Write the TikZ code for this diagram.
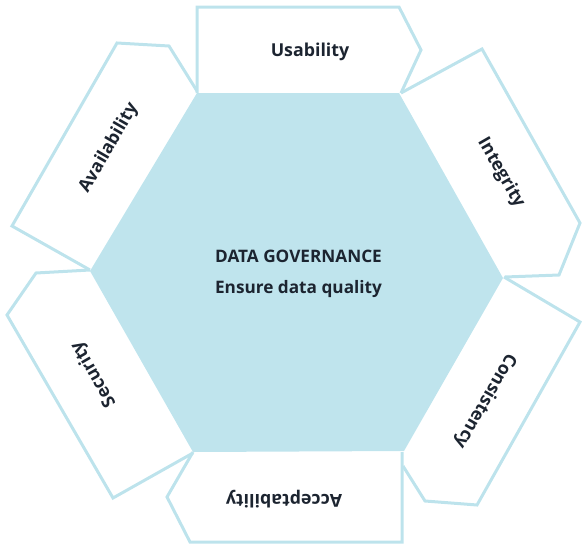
\documentclass[tikz,border=0pt]{standalone}
\usepackage{fontspec}
\setmainfont{Open Sans}
\definecolor{hexfill}{RGB}{191,228,237}
\definecolor{facetline}{RGB}{189,227,236}
\definecolor{ink}{RGB}{28,36,48}
\begin{document}
\begin{tikzpicture}[x=1pt,y=-1pt,
  core/.style={fill=hexfill},
  facet/.style={draw=facetline, line width=3pt, line join=miter},
  facetlabel/.style={font=\bfseries\fontsize{17.8}{21}\selectfont, text=ink, inner sep=0pt},
  corelabel/.style={font=\bfseries\fontsize{17.2}{20}\selectfont, text=ink, inner sep=0pt, anchor=base}]
\useasboundingbox (0,0) rectangle (582,546);

% central hexagon
\path[core] (197,93) -- (399,93) -- (503,278) -- (404,451) -- (193,452) -- (90,271) -- cycle;

% six arrow-shaped facets around the hexagon
\draw[facet] (197,93) -- (197,7) -- (399,7) -- (421,50) -- (401,93);
\draw[facet] (401,93) -- (482,49) -- (580,223) -- (559,275) -- (505,277);
\draw[facet] (504,277) -- (580,322) -- (477,505) -- (425,501) -- (403,466);
\draw[facet] (402,452) -- (402,542) -- (190,542) -- (167,497) -- (193,452);
\draw[facet] (193,453) -- (113,498) -- (7,315) -- (36,273) -- (90,270);
\draw[facet] (90,270) -- (12,226) -- (117,43) -- (169,46) -- (197,91);

% facet labels
\node[facetlabel] (usability) at (310,52) {Usability};
\node[facetlabel, rotate=-60] (integrity) at (501,173) {Integrity};
\node[facetlabel, rotate=-120] (consistency) at (485,401) {Consistency};
\node[facetlabel, rotate=180] (acceptability) at (284,499) {Acceptability};
\node[facetlabel, rotate=120] (security) at (94,374) {Security};
\node[facetlabel, rotate=60] (availability) at (109,148) {Availability};

% centre text
\node[corelabel] (title) at (298.5,262) {DATA GOVERNANCE};
\node[corelabel] (subtitle) at (298.5,293) {Ensure data quality};
\end{tikzpicture}
\end{document}
